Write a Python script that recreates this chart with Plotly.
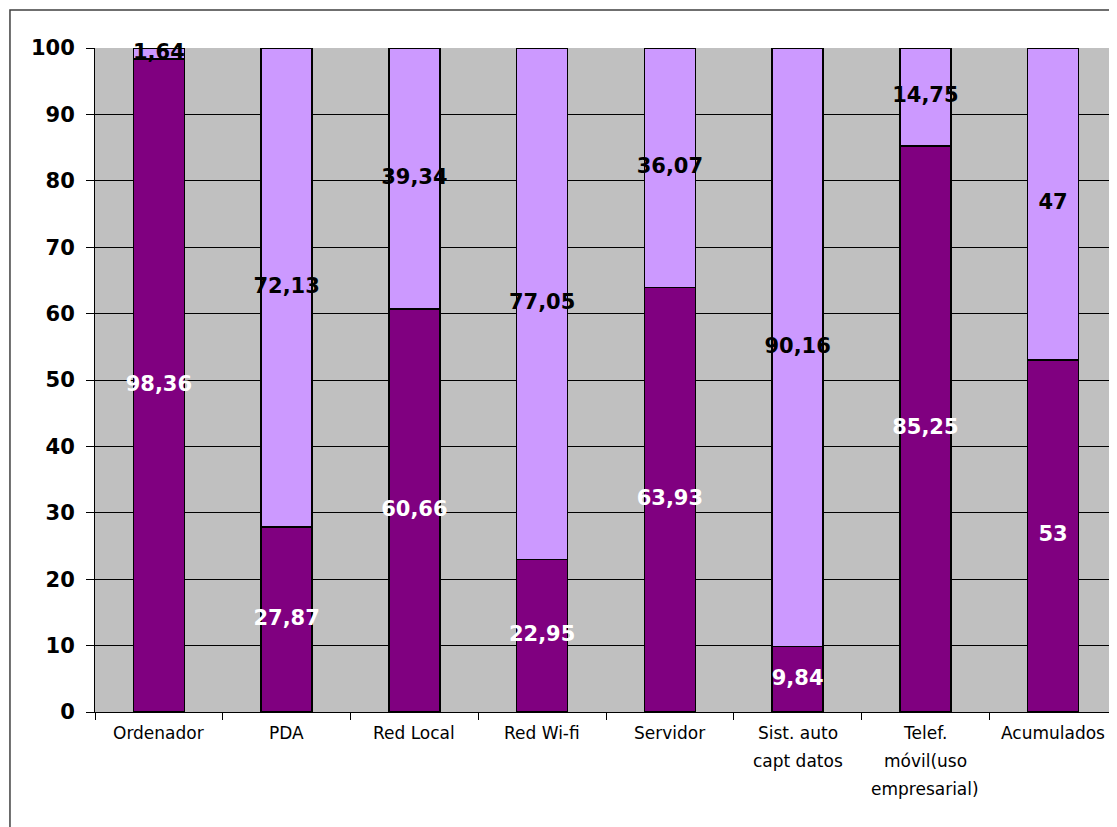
import plotly.graph_objects as go

categorias = ["Ordenador", "PDA", "Red Local", "Red Wi-fi", "Servidor",
              "Sist. auto<br>capt datos", "Telef.<br>móvil(uso<br>empresarial)", "Acumulados"]
si = [98.36, 27.87, 60.66, 22.95, 63.93, 9.84, 85.25, 53]
no = [1.64, 72.13, 39.34, 77.05, 36.07, 90.16, 14.75, 47]

y_ticks = list(range(0, 101, 10))

oscuro = "#800080"
claro = "#CC99FF"


def fmt(v):
    return ("%g" % v).replace(".", ",")


fig = go.Figure()
fig.add_trace(go.Bar(x=categorias, y=si, marker=dict(color=oscuro, line=dict(color="black", width=1.5)),
                     width=0.4, hoverinfo="y", name="Sí"))
fig.add_trace(go.Bar(x=categorias, y=no, marker=dict(color=claro, line=dict(color="black", width=1.5)),
                     width=0.4, hoverinfo="y", name="No"))

# etiquetas de datos en el centro de cada tramo
fig.add_trace(go.Scatter(x=categorias, y=[v / 2 for v in si], mode="text",
                         text=[fmt(v) for v in si],
                         textfont=dict(family="DejaVu Sans", size=21, color="white", weight="bold"),
                         hoverinfo="skip", cliponaxis=False))
fig.add_trace(go.Scatter(x=categorias, y=[a + b / 2 for a, b in zip(si, no)], mode="text",
                         text=[fmt(v) for v in no],
                         textfont=dict(family="DejaVu Sans", size=21, color="black", weight="bold"),
                         hoverinfo="skip", cliponaxis=False))

# etiquetas del eje x, una anotacion por linea para imitar el interlineado
for cat in categorias:
    for i, linea in enumerate(cat.split("<br>")):
        fig.add_annotation(x=cat, y=0, xref="x", yref="paper", text=linea, showarrow=False,
                           yanchor="middle", yshift=-21 - i * 28,
                           font=dict(family="DejaVu Sans", size=17, color="black"))

# marco exterior
fig.add_shape(type="rect", xref="paper", yref="paper", x0=-0.0832, x1=1.2, y0=-0.3, y1=1.0572,
              line=dict(color="#404040", width=1.5), fillcolor="rgba(0,0,0,0)", layer="below")

fig.update_layout(
    barmode="stack",
    width=1109, height=819,
    margin=dict(l=87, r=0, t=40, b=115),
    plot_bgcolor="#C0C0C0",
    paper_bgcolor="white",
    showlegend=False,
    xaxis=dict(showticklabels=False, tickson="boundaries", ticks="outside", ticklen=7,
               tickcolor="black", showline=True, linecolor="black", linewidth=1,
               showgrid=False, zeroline=False),
    yaxis=dict(range=[0, 100], tickvals=y_ticks, ticks="outside", ticklen=8, tickcolor="black",
               showline=True, linecolor="black", linewidth=1, showgrid=True, gridcolor="black",
               gridwidth=1, zeroline=False, ticklabelstandoff=7,
               tickfont=dict(family="DejaVu Sans", size=21, color="black", weight="bold")),
)

fig.write_html("out.html")
